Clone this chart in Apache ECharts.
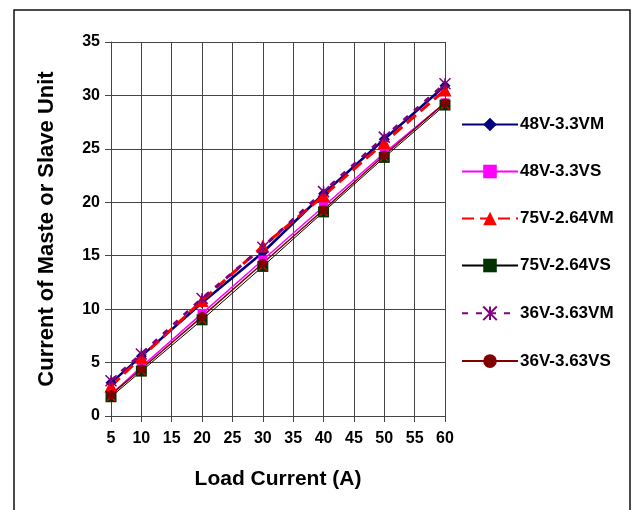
<!DOCTYPE html>
<html><head><meta charset="utf-8">
<script src="https://cdn.jsdelivr.net/npm/echarts@6/dist/echarts.min.js"></script>
<style>html,body{margin:0;padding:0;background:#fff}#c{width:637px;height:510px}</style>
</head><body><div id="c"></div>
<script>
var loadCurrent = [5, 10, 20, 30, 40, 50, 60];
var s48M = [3.1, 5.6, 10.6, 15.3, 20.8, 25.9, 30.9];
var s48S = [2.0, 4.6, 9.6, 14.6, 19.6, 24.6, 29.3];
var s75M = [2.8, 5.5, 10.8, 15.9, 20.6, 25.6, 30.5];
var s75S = [1.8, 4.2, 9.0, 14.0, 19.1, 24.2, 29.1];
var s36M = [3.3, 5.8, 11.0, 15.8, 21.0, 26.1, 31.1];
var s36S = [2.0, 4.4, 9.3, 14.3, 19.3, 24.4, 29.3];
var seriesNames = ['48V-3.3VM', '48V-3.3VS', '75V-2.64VM', '75V-2.64VS', '36V-3.63VM', '36V-3.63VS'];

function pts(v) { return loadCurrent.map(function (x, i) { return [x, v[i]]; }); }
var font = 'Liberation Sans, Arial, sans-serif';
var starPath = 'path://M0,0L10,10M10,0L0,10M5,0L5,10';
var xPath = 'path://M1,1L9,9M9,1L1,9';

var chart = echarts.init(document.getElementById('c'));
chart.setOption({
  animation: false,
  backgroundColor: '#fff',
  graphic: [{
    type: 'rect', shape: { x: 14, y: 10, width: 616, height: 520 },
    style: { fill: 'none', stroke: '#111', lineWidth: 1.5 }
  }],
  grid: { left: 111, right: 192, top: 42, bottom: 94 },
  legend: {
    data: seriesNames,
    orient: 'vertical', left: 456, top: 111,
    itemWidth: 56, itemHeight: 17, itemGap: 30,
    textStyle: { fontFamily: font, fontWeight: 'bold', fontSize: 17, color: '#000', padding: [0, 0, 0, -3] }
  },
  xAxis: {
    type: 'value', min: 5, max: 60, interval: 5,
    name: 'Load Current (A)', nameLocation: 'middle', nameGap: 53,
    nameTextStyle: { fontFamily: font, fontWeight: 'bold', fontSize: 21, color: '#000' },
    axisLine: { show: true, lineStyle: { color: '#444', width: 1 } },
    axisTick: { show: true, length: 6, lineStyle: { color: '#444' } },
    axisLabel: { fontFamily: font, fontWeight: 'bold', fontSize: 16, color: '#000', margin: 15 },
    splitLine: { show: true, lineStyle: { color: '#444', width: 1 } }
  },
  yAxis: {
    type: 'value', min: 0, max: 35, interval: 5,
    name: 'Current of Maste or Slave Unit', nameLocation: 'middle', nameGap: 53,
    nameTextStyle: { fontFamily: font, fontWeight: 'bold', fontSize: 22, color: '#000' },
    axisLine: { show: true, lineStyle: { color: '#444', width: 1 } },
    axisTick: { show: true, length: 6, lineStyle: { color: '#444' } },
    axisLabel: { fontFamily: font, fontWeight: 'bold', fontSize: 16, color: '#000', margin: 11 },
    splitLine: { show: true, lineStyle: { color: '#444', width: 1 } }
  },
  series: [
    { name: seriesNames[0], type: 'line', data: pts(s48M), symbol: 'diamond', symbolSize: 11,
      itemStyle: { color: '#000080' }, lineStyle: { color: '#000080', width: 2.5 } },
    { name: seriesNames[1], type: 'line', data: pts(s48S), symbol: 'rect', symbolSize: 9,
      itemStyle: { color: '#ff00ff' }, lineStyle: { color: '#ff00ff', width: 1.5 } },
    { name: seriesNames[2], type: 'line', data: pts(s75M), symbol: 'triangle', symbolSize: 13,
      itemStyle: { color: '#ff0000' }, lineStyle: { color: '#ff0000', width: 3, type: [12, 6] } },
    { name: seriesNames[3], type: 'line', data: pts(s75S), symbol: 'rect', symbolSize: 11,
      itemStyle: { color: '#003300' }, lineStyle: { color: '#000', width: 1 } },
    { name: 'x-overlay', type: 'line', data: pts(s75S), symbol: xPath, symbolSize: 8,
      itemStyle: { color: 'none', borderColor: '#ff0000', borderWidth: 1.2 }, lineStyle: { width: 0, opacity: 0 } },
    { name: seriesNames[4], type: 'line', data: pts(s36M), symbol: starPath, symbolSize: 11,
      itemStyle: { color: 'none', borderColor: '#800080', borderWidth: 1.5 }, lineStyle: { color: '#800080', width: 3, type: [6, 8] } },
    { name: seriesNames[5], type: 'line', data: pts(s36S), symbol: 'circle', symbolSize: 9,
      itemStyle: { color: '#800000' }, lineStyle: { color: '#800000', width: 1.5 } }
  ]
});
</script></body></html>
